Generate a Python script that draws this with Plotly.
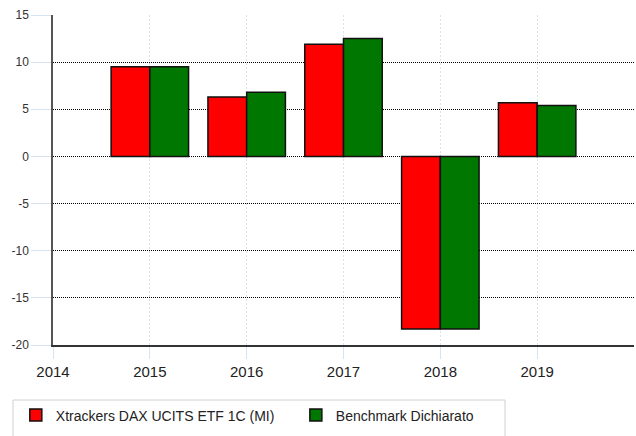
import plotly.graph_objects as go

years = [2015, 2016, 2017, 2018, 2019]
fund_name = "Xtrackers DAX UCITS ETF 1C (MI)"
bench_name = "Benchmark Dichiarato"
fund_values = [9.5, 6.3, 11.9, -18.3, 5.7]
bench_values = [9.5, 6.8, 12.5, -18.3, 5.4]
x_ticks = [2014, 2015, 2016, 2017, 2018, 2019]
y_ticks = [15, 10, 5, 0, -5, -10, -15, -20]

fig = go.Figure()
fig.add_trace(go.Bar(x=years, y=fund_values, name=fund_name, legend="legend",
                     marker=dict(color="#ff0000", line=dict(color="#111111", width=1.5))))
fig.add_trace(go.Bar(x=years, y=bench_values, name=bench_name, legend="legend2",
                     marker=dict(color="#007700", line=dict(color="#111111", width=1.5))))

leg_common = dict(orientation="h", y=-0.165, xanchor="left", yanchor="top",
                  borderwidth=0, bgcolor="rgba(0,0,0,0)",
                  font=dict(size=14, color="#222222"))

fig.update_layout(
    width=636, height=436,
    margin=dict(l=53, r=2, t=15, b=91, autoexpand=False),
    plot_bgcolor="white", paper_bgcolor="white",
    barmode="group", bargap=0.2, bargroupgap=0,
    font=dict(family="Liberation Sans, Arial", size=12, color="#333333"),
    showlegend=True,
    legend=dict(x=-0.064, **leg_common),
    legend2=dict(x=0.418, **leg_common),
    shapes=[dict(type="rect", xref="paper", yref="paper",
                 x0=-0.0688, x1=0.778, y0=-0.1667, y1=-0.32,
                 line=dict(color="#d0d0d0", width=1), fillcolor="rgba(0,0,0,0)",
                 layer="below")],
    xaxis=dict(range=[2014, 2020], tickvals=x_ticks, ticktext=[str(v) for v in x_ticks],
               showgrid=True, gridcolor="#d6e4f2", griddash="2px,2px", gridwidth=1,
               showline=True, linecolor="#333333", linewidth=1.5, automargin=False,
               ticks="outside", ticklen=12, tickcolor="#d6e4f2",
               tickfont=dict(size=15, color="#222222"), zeroline=False),
    yaxis=dict(range=[-20, 15], tickvals=y_ticks, ticktext=[str(v) for v in y_ticks],
               showgrid=True, gridcolor="#000000", griddash="1px,1px", gridwidth=1,
               showline=True, linecolor="#555555", linewidth=1.5, automargin=False,
               ticks="outside", ticklen=20, tickcolor="#d6e4f2",
               tickfont=dict(size=12, color="#333333"), zeroline=False),
)

fig.write_html("out.html", config={"displayModeBar": False},
               post_script="document.body.style.margin='0';")
